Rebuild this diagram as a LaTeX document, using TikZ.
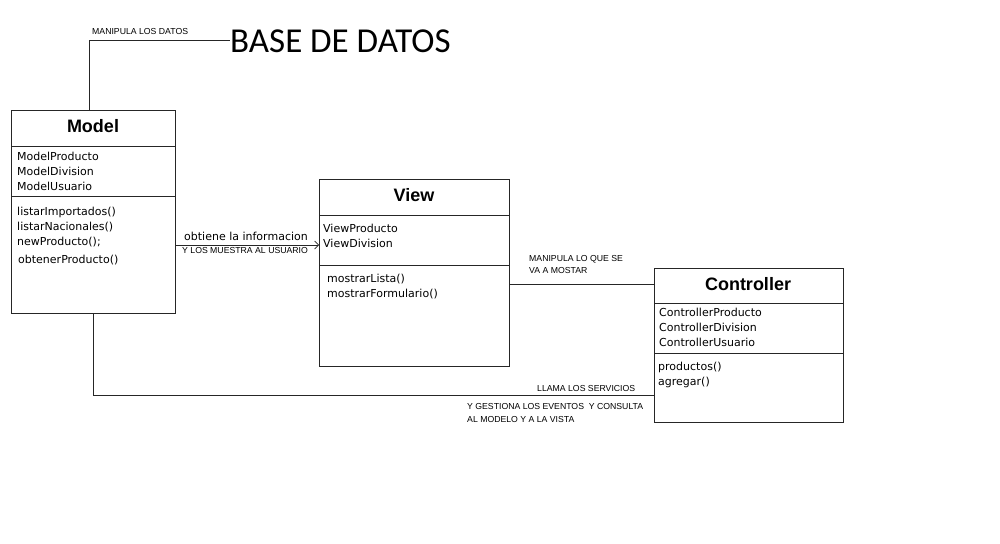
\documentclass[tikz,border=0pt]{standalone}
\usepackage{fontspec}
\setmainfont{DejaVu Sans}
\newfontfamily\arialf{Liberation Sans}
\newfontfamily\calf{Carlito}
\usetikzlibrary{arrows.meta}
\begin{document}
\begin{tikzpicture}[x=1pt,y=-1pt,
  box/.style={draw=black!85,line width=1pt,anchor=north west,inner sep=0pt},
  sep/.style={draw=black!85,line width=1pt},
  conn/.style={draw=black!85,line width=1pt},
  ttl/.style={font=\arialf\bfseries\fontsize{18}{20}\selectfont,inner sep=0pt},
  mem/.style={font=\fontsize{11}{13}\selectfont,anchor=west,inner sep=0pt},
  lbl/.style={font=\arialf\fontsize{8.7}{10}\selectfont,anchor=west,inner sep=0pt},
  cmt/.style={font=\fontsize{11}{13}\selectfont,anchor=west,inner sep=0pt}]
\path[use as bounding box,fill=white] (0,0) rectangle (1000,543);

% Model
\node[box,minimum width=164pt,minimum height=203pt] (model) at (11,110) {};
\draw[sep] (11,146) -- (175,146);
\draw[sep] (11,196) -- (175,196);
\node[ttl] (modelT) at (93,126) {Model};
\node[mem] (m1) at (17,156) {ModelProducto};
\node[mem] (m2) at (17,171) {ModelDivision};
\node[mem] (m3) at (17,186) {ModelUsuario};
\node[mem] (m4) at (17,212) {listarImportados()};
\node[mem] (m5) at (17,227) {listarNacionales()};
\node[mem] (m6) at (17,242) {newProducto();};
\node[mem] (m7) at (18,260) {obtenerProducto()};

% View
\node[box,minimum width=190pt,minimum height=187pt] (view) at (319,179) {};
\draw[sep] (319,215) -- (509,215);
\draw[sep] (319,265) -- (509,265);
\node[ttl] (viewT) at (414,195) {View};
\node[mem] (v1) at (323,228) {ViewProducto};
\node[mem] (v2) at (323,243) {ViewDivision};
\node[mem] (v3) at (327,279) {mostrarLista()};
\node[mem] (v4) at (327,294) {mostrarFormulario()};

% Controller
\node[box,minimum width=189pt,minimum height=154pt] (ctrl) at (654,268) {};
\draw[sep] (654,303) -- (843,303);
\draw[sep] (654,353) -- (843,353);
\node[ttl] (ctrlT) at (748,284) {Controller};
\node[mem] (c1) at (659,312) {ControllerProducto};
\node[mem] (c2) at (659,327) {ControllerDivision};
\node[mem] (c3) at (659,342) {ControllerUsuario};
\node[mem] (c4) at (658,367) {productos()};
\node[mem] (c5) at (658,382) {agregar()};

% Base de datos
\node[font=\calf\fontsize{35}{40}\selectfont,anchor=west,inner sep=0pt] (bd) at (230,41) {BASE DE DATOS};
\node[lbl] (l1) at (92,32) {MANIPULA LOS DATOS};
\draw[conn] ([xshift=78pt]model.north west) |- (bd.west);

% Model -> View
\draw[conn,-{Straight Barb[length=4pt,width=8pt,line width=0.7pt]}] (model.east |- 0,245) -- (view.west |- 0,245);
\node[cmt] (l2) at (184,236) {obtiene la informacion};
\node[lbl] (l3) at (182,251) {Y LOS MUESTRA AL USUARIO};

% View - Controller
\draw[conn] (view.east |- 0,284) -- (ctrl.west |- 0,284);
\node[lbl] (l4) at (529,259) {MANIPULA LO QUE SE};
\node[lbl] (l5) at (529,271) {VA A MOSTAR};

% Model - Controller
\draw[conn] ([xshift=82pt]model.south west) |- (ctrl.west |- 0,395);
\node[lbl] (l6) at (537,388) {LLAMA LOS SERVICIOS};
\node[lbl] (l7) at (467,406) {Y GESTIONA LOS EVENTOS\ \ Y CONSULTA};
\node[lbl] (l8) at (467,419) {AL MODELO Y A LA VISTA};
\end{tikzpicture}
\end{document}
